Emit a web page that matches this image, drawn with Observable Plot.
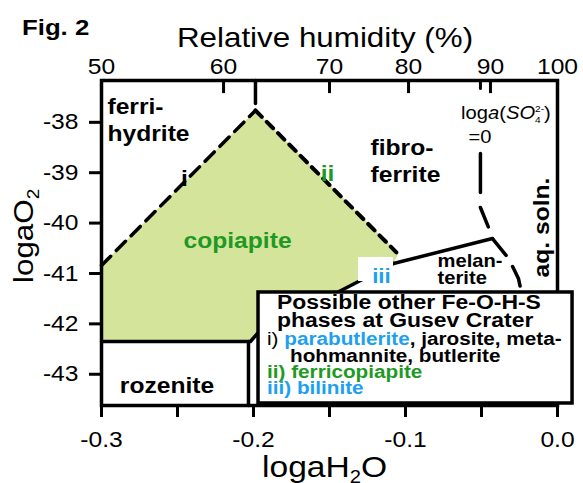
<!DOCTYPE html>
<html><head><meta charset="utf-8">
<script src="https://cdn.jsdelivr.net/npm/d3@7"></script>
<script src="https://cdn.jsdelivr.net/npm/@observablehq/plot@0.6"></script>
<style>body{margin:0;background:#fff;} #chart{width:583px;height:483px;position:relative;}</style>
</head><body><div id="chart"></div>
<script>
const FONT = "'Liberation Sans', Arial, Helvetica, sans-serif";
// axes
const xTicks = [-0.3, -0.25, -0.2, -0.15, -0.1, -0.05, 0];
const yTicks = [-38, -39, -40, -41, -42, -43];
const rhLabels = ["50", "60", "70", "80", "90", "100"];
const rhPos = [-0.3, -0.2197, -0.150, -0.098, -0.0441, 0];
const xDomain = [-0.3, 0];
const yDomain = [-43.62, -37.17];
// fields & boundaries [logaH2O, logaO2]
const copiapiteField = [[-0.3, -40.841], [-0.1987, -37.765], [-0.1046, -40.603], [-0.1079, -40.802], [-0.1974, -42.191], [-0.2020, -42.350], [-0.3, -42.350]];
const biliniteBox = [[-0.1309, -0.1079, -40.683, -41.159]];
const rozeniteTop = [[-0.3, -42.350], [-0.2020, -42.350], [-0.1974, -42.191], [-0.1079, -40.802]];
const rozeniteRight = [[-0.2033, -42.350], [-0.2033, -43.62]];
const melanteriteTop = [[-0.1079, -40.802], [-0.0428, -40.306]];
const ferrihydriteFibro = [[-0.1987, -37.17], [-0.1987, -37.626]];
const boundaryI = [[-0.3, -40.841], [-0.1987, -37.765]];
const boundaryII = [[-0.1987, -37.765], [-0.1060, -40.58]];
const so4Tick = [[-0.0507, -37.17], [-0.0507, -37.33]];
const so4Solid = [[-0.0507, -38.619], [-0.0507, -39.393]];
const so4Dashed = [[-0.0507, -39.690], [-0.0454, -40.087], [-0.0428, -40.306], [-0.0322, -40.702], [-0.0257, -41.099], [-0.0237, -41.377]];
const rhTickMarks = [-0.2197, -0.150, -0.098, -0.0441];
const legendBox = [[-0.1967, 0.0099, -41.377, -43.58]];
// labels [text, logaH2O, logaO2]
const blackStart = [["ferri-", -0.2961, -37.825], ["hydrite", -0.2961, -38.361], ["fibro-", -0.1230, -38.658], ["ferrite", -0.1230, -39.194]];
const blackSmallStart = [["melan-", -0.0789, -40.881], ["terite", -0.0789, -41.199]];
const blackMiddle = [["i", -0.2454, -39.254], ["rozenite", -0.2569, -43.362]];
const greenMiddle = [["ii", -0.1513, -39.155], ["copiapite", -0.2105, -40.504]];
const blueMiddle = [["iii", -0.1158, -41.179]];
const rotatedLabels = [["aq. soln.", -0.0059, -40.087]];

const GREEN_FILL = "#d4e49b", GREEN_TXT = "#1e9a24", BLUE = "#1ea0f0";
const px = d => d[0], py = d => d[1];

const plot = Plot.plot({
  width: 583, height: 483,
  marginLeft: 101, marginRight: 26, marginTop: 80, marginBottom: 78,
  x: {domain: xDomain}, y: {domain: yDomain},
  style: {fontFamily: FONT, background: "white", overflow: "visible"},
  marks: [
    Plot.line(copiapiteField, {x: px, y: py, fill: GREEN_FILL, stroke: "none"}),
    Plot.line(rozeniteTop, {x: px, y: py, stroke: "black", strokeWidth: 3.5}),
    Plot.line(rozeniteRight, {x: px, y: py, stroke: "black", strokeWidth: 3.5}),
    Plot.line(melanteriteTop, {x: px, y: py, stroke: "black", strokeWidth: 3.5}),
    Plot.line(ferrihydriteFibro, {x: px, y: py, stroke: "black", strokeWidth: 3.5}),
    Plot.line(boundaryI, {x: px, y: py, stroke: "black", strokeWidth: 3.5, strokeDasharray: "13,8"}),
    Plot.line(boundaryII, {x: px, y: py, stroke: "black", strokeWidth: 4, strokeDasharray: "9,7"}),
    Plot.line(so4Tick, {x: px, y: py, stroke: "black", strokeWidth: 3}),
    Plot.line(so4Solid, {x: px, y: py, stroke: "black", strokeWidth: 3.5}),
    Plot.line(so4Dashed, {x: px, y: py, stroke: "black", strokeWidth: 3.5, strokeDasharray: "21,13"}),
    Plot.rect(biliniteBox, {x1: d => d[0], x2: d => d[1], y1: d => d[2], y2: d => d[3], fill: "white"}),
    Plot.ruleX(rhTickMarks, {x: d => d, y1: -37.17, y2: -37.43, stroke: "black", strokeWidth: 3}),
    Plot.frame({stroke: "black", strokeWidth: 3.5}),
    Plot.axisX({anchor: "bottom", ticks: xTicks, tickSize: 12, tickPadding: 14, fontSize: 22, strokeWidth: 3, label: null,
      tickFormat: d => Math.abs(d * 10 - Math.round(d * 10)) < 1e-6 ? (d === 0 ? "0.0" : d.toFixed(1)) : ""}),
    Plot.axisX({anchor: "top", ticks: rhPos, tickSize: 0, tickPadding: 7, fontSize: 22, label: null,
      tickFormat: d => rhLabels[rhPos.indexOf(d)]}),
    Plot.axisY({anchor: "left", ticks: yTicks, tickSize: 12, tickPadding: 11, fontSize: 22, strokeWidth: 3, label: null,
      tickFormat: d => String(d)}),
    Plot.text(blackStart, {x: d => d[1], y: d => d[2], text: d => d[0], textAnchor: "start", lineAnchor: "bottom", fontSize: 22, fontWeight: "bold", fill: "black"}),
    Plot.text(blackSmallStart, {x: d => d[1], y: d => d[2], text: d => d[0], textAnchor: "start", lineAnchor: "bottom", fontSize: 18, fontWeight: "bold", fill: "black"}),
    Plot.text(blackMiddle, {x: d => d[1], y: d => d[2], text: d => d[0], textAnchor: "middle", lineAnchor: "bottom", fontSize: 22, fontWeight: "bold", fill: "black"}),
    Plot.text(greenMiddle, {x: d => d[1], y: d => d[2], text: d => d[0], textAnchor: "middle", lineAnchor: "bottom", fontSize: 22, fontWeight: "bold", fill: GREEN_TXT}),
    Plot.text(blueMiddle, {x: d => d[1], y: d => d[2], text: d => d[0], textAnchor: "middle", lineAnchor: "bottom", fontSize: 20, fontWeight: "bold", fill: BLUE}),
    Plot.text(rotatedLabels, {x: d => d[1], y: d => d[2], text: d => d[0], rotate: -90, textAnchor: "middle", lineAnchor: "bottom", fontSize: 22, fontWeight: "bold", fill: "black"}),
    Plot.rect(legendBox, {x1: d => d[0], x2: d => d[1], y1: d => d[2], y2: d => d[3], fill: "white", stroke: "black", strokeWidth: 3.5})
  ]
});
document.getElementById("chart").appendChild(plot);

const svg = d3.select(plot);
const xs = plot.scale("x"), ys = plot.scale("y");
const g = svg.append("g").attr("font-family", FONT);
function addText(x, y, parts, o) {
  const t = g.append("text")
    .attr("transform", `translate(${x},${y})${o.rotate ? ` rotate(${o.rotate})` : ""}`)
    .attr("font-size", o.size).attr("font-weight", o.weight || "normal")
    .attr("text-anchor", o.anchor || "start").attr("fill", o.fill || "black");
  for (const p of parts) {
    const s = t.append("tspan").text(p.t);
    if (p.italic) s.attr("font-style", "italic");
    if (p.fill) s.attr("fill", p.fill);
    if (p.size) s.attr("font-size", p.size);
    if (p.weight) s.attr("font-weight", p.weight);
    if (p.dx) s.attr("dx", p.dx);
    if (p.dy) s.attr("dy", p.dy);
  }
}
// titles
addText(22, 35, [{t: "Fig. 2"}], {size: 23, weight: "bold"});
addText(325, 47, [{t: "Relative humidity (%)"}], {size: 28, anchor: "middle"});
addText(262, 477, [{t: "loga"}, {t: "H"}, {t: "2", size: 18, dy: 6}, {t: "O", dy: -6}], {size: 30});
addText(33, 283, [{t: "loga"}, {t: "O"}, {t: "2", size: 17, dy: 6}], {size: 28, rotate: -90});
// SO4 label
const so4x = xs.apply(-0.0507);
addText(so4x + 26, 119, [{t: "log"}, {t: "a", italic: true}, {t: "(", }, {t: "SO", italic: true}, {t: "4", size: 9, dy: 4}, {t: "2-", size: 9, dx: -5, dy: -11}, {t: ")", dy: 7}], {size: 18, anchor: "middle"});
addText(so4x, 143, [{t: "=0"}], {size: 18, anchor: "middle"});
// legend text
const lx = xs.apply(legendBox[0][0]), ly = ys.apply(legendBox[0][2]);
addText(lx + 19, ly + 17, [{t: "Possible other Fe-O-H-S"}], {size: 20.5, weight: "bold"});
addText(lx + 19, ly + 35, [{t: "phases at Gusev Crater"}], {size: 20.5, weight: "bold"});
addText(lx + 9, ly + 53, [{t: "i) ", weight: "normal"}, {t: "parabutlerite", fill: BLUE}, {t: ", jarosite, meta-"}], {size: 18.5, weight: "bold"});
addText(lx + 32, ly + 70, [{t: "hohmannite, butlerite"}], {size: 18.5, weight: "bold"});
addText(lx + 9, ly + 86, [{t: "ii) ferricopiapite"}], {size: 18.5, weight: "bold", fill: GREEN_TXT});
addText(lx + 9, ly + 102, [{t: "iii) bilinite"}], {size: 18.5, weight: "bold", fill: BLUE});

// widen glyphs slightly along text direction, as in the reference
const S = 1.12;
plot.querySelectorAll("text").forEach(t => {
  const tr = t.getAttribute("transform");
  if (tr) t.setAttribute("transform", `${tr} scale(${S},1)`);
});
</script></body></html>
